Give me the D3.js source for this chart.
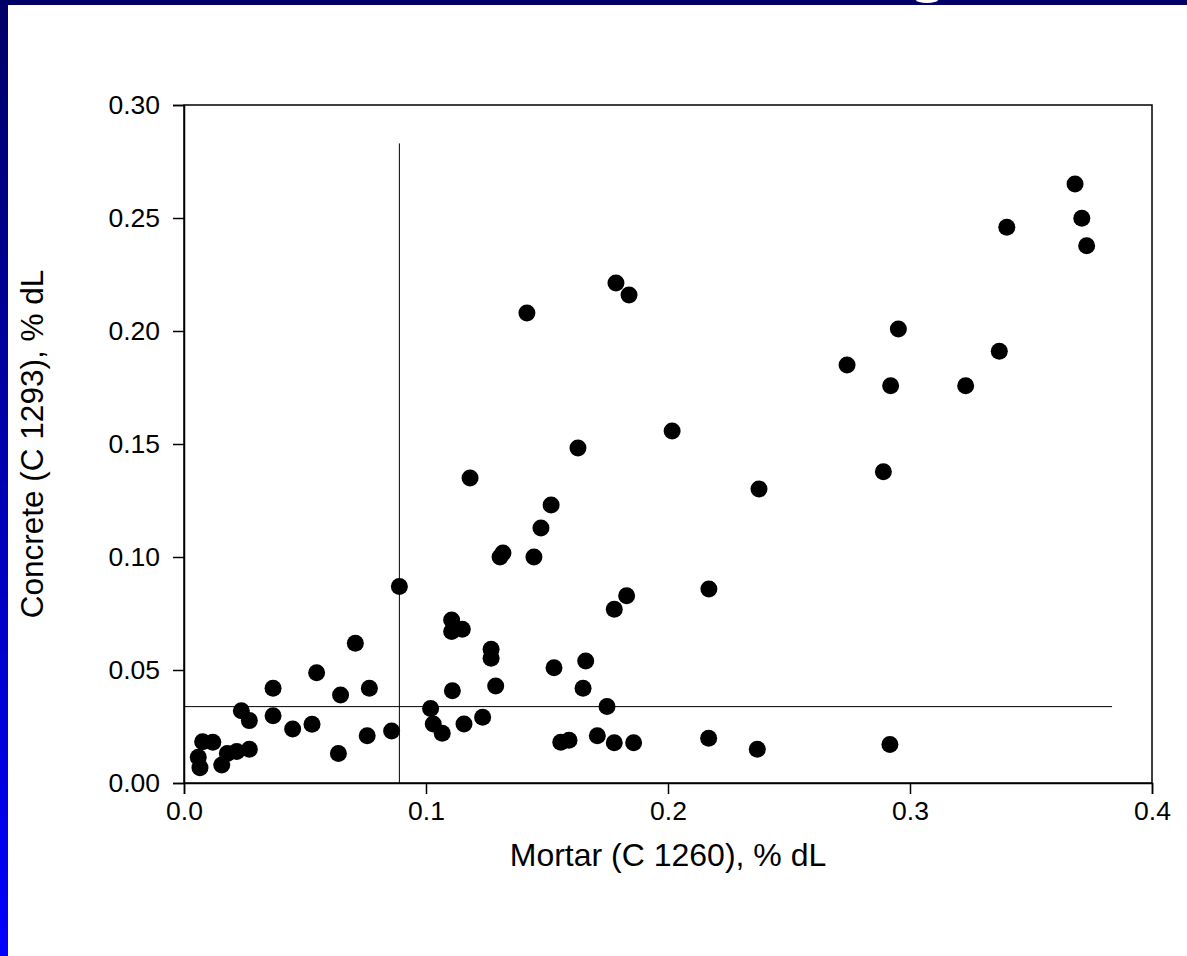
<!DOCTYPE html>
<html><head><meta charset="utf-8">
<script src="https://cdn.jsdelivr.net/npm/d3@7"></script>
<style>html,body{margin:0;padding:0;background:#fff;overflow:hidden}svg{display:block}</style>
</head><body>
<script>
const mortar = [0.3682,0.3710,0.3730,0.3400,0.2952,0.3369,0.2740,0.2920,0.3230,0.2890,
0.1785,0.1839,0.1417,0.2017,0.2376,0.1628,0.1182,0.1517,0.1475,0.1318,0.1306,0.1446,
0.2169,0.1829,0.1778,0.1269,0.1269,0.1529,0.1660,0.1288,0.1649,0.1748,0.1234,
0.1557,0.1591,0.1708,0.1778,0.1858,0.2168,0.2369,0.2917,
0.0890,0.1106,0.1106,0.1150,0.0708,0.0548,0.0368,0.0766,0.0647,0.1109,
0.0237,0.0270,0.0368,0.0449,0.0529,0.0638,0.0757,0.0858,0.1019,0.1030,0.1067,0.1157,
0.0077,0.0119,0.0059,0.0066,0.0156,0.0179,0.0218,0.0270];
const concrete = [0.2650,0.2499,0.2377,0.2459,0.2009,0.1910,0.1850,0.1758,0.1758,0.1377,
0.2212,0.2159,0.2080,0.1558,0.1301,0.1482,0.1350,0.1230,0.1128,0.1018,0.1000,0.1000,
0.0858,0.0829,0.0769,0.0592,0.0552,0.0510,0.0540,0.0429,0.0419,0.0338,0.0291,
0.0180,0.0189,0.0209,0.0178,0.0178,0.0198,0.0149,0.0170,
0.0869,0.0721,0.0670,0.0680,0.0618,0.0488,0.0419,0.0419,0.0389,0.0408,
0.0320,0.0276,0.0298,0.0239,0.0260,0.0131,0.0209,0.0230,0.0330,0.0261,0.0220,0.0261,
0.0183,0.0180,0.0114,0.0068,0.0080,0.0131,0.0139,0.0149];
const xTicks = [0.0,0.1,0.2,0.3,0.4];
const yTicks = [0.00,0.05,0.10,0.15,0.20,0.25,0.30];
const vLine = {x:0.089, y0:0, y1:0.283};
const hLine = {y:0.0338, x0:0, x1:0.3835};
const xTitle = "Mortar (C 1260), % dL";
const yTitle = "Concrete (C 1293), % dL";

const W=1187,H=956;
const svg=d3.select("body").append("svg").attr("width",W).attr("height",H);
const defs=svg.append("defs");
const g=defs.append("linearGradient").attr("id","lb").attr("x1",0).attr("y1",0).attr("x2",0).attr("y2",1);
g.append("stop").attr("offset","0%").attr("stop-color","#000066");
g.append("stop").attr("offset","100%").attr("stop-color","#0000ff");
svg.append("rect").attr("x",0).attr("y",0).attr("width",W).attr("height",H).attr("fill","#fff");
svg.append("rect").attr("x",0).attr("y",0).attr("width",8).attr("height",H).attr("fill","url(#lb)");
svg.append("rect").attr("x",0).attr("y",0).attr("width",W).attr("height",5).attr("fill","#000066");
// small white fragment of the slide title's descender, visible in the band
svg.append("ellipse").attr("cx",927).attr("cy",0).attr("rx",11).attr("ry",3).attr("fill","#fff");

const x=d3.scaleLinear().domain([0,0.4]).range([184,1152]);
const y=d3.scaleLinear().domain([0,0.3]).range([783,105]);
const font="'Liberation Sans', Arial, sans-serif";

// frame
svg.append("rect").attr("x",x(0)).attr("y",y(0.3)).attr("width",x(0.4)-x(0)).attr("height",y(0)-y(0.3))
 .attr("fill","none").attr("stroke","#000").attr("stroke-width",1.5);

const xa=svg.append("g").attr("transform",`translate(0,${y(0)})`)
 .call(d3.axisBottom(x).tickValues(xTicks).tickFormat(d3.format(".1f")).tickSize(11).tickPadding(7));
const ya=svg.append("g").attr("transform",`translate(${x(0)},0)`)
 .call(d3.axisLeft(y).tickValues(yTicks).tickFormat(d3.format(".2f")).tickSize(11).tickPadding(13));
[xa,ya].forEach(a=>{
 a.select(".domain").attr("stroke","#000").attr("stroke-width",1.5);
 a.selectAll(".tick line").attr("stroke","#000").attr("stroke-width",1.5);
 a.selectAll(".tick text").attr("font-family",font).attr("font-size",26.5).attr("fill","#000");
});

// reference lines
svg.append("line").attr("x1",x(vLine.x)).attr("x2",x(vLine.x)).attr("y1",y(vLine.y0)).attr("y2",y(vLine.y1))
 .attr("stroke","#000").attr("stroke-width",1);
svg.append("line").attr("x1",x(hLine.x0)).attr("x2",x(hLine.x1)).attr("y1",y(hLine.y)).attr("y2",y(hLine.y))
 .attr("stroke","#000").attr("stroke-width",1);

svg.append("g").selectAll("circle").data(mortar.map((m,i)=>[m,concrete[i]])).join("circle")
 .attr("cx",d=>x(d[0])).attr("cy",d=>y(d[1])).attr("r",8.5).attr("fill","#000");

svg.append("text").attr("x",(x(0)+x(0.4))/2).attr("y",866).attr("text-anchor","middle")
 .attr("font-family",font).attr("font-size",32).attr("fill","#000").text(xTitle);
svg.append("text").attr("transform",`translate(43,${(y(0)+y(0.3))/2}) rotate(-90)`).attr("text-anchor","middle")
 .attr("font-family",font).attr("font-size",31.5).attr("fill","#000").text(yTitle);
</script>
</body></html>
